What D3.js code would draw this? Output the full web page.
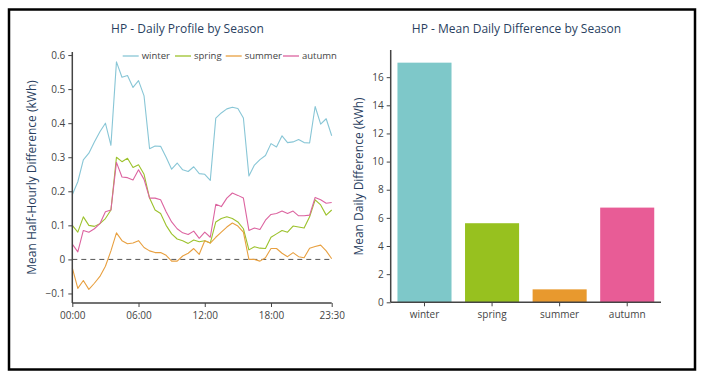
<!DOCTYPE html>
<html><head><meta charset="utf-8">
<script src="https://cdn.jsdelivr.net/npm/d3@7"></script>
<style>body{margin:0;background:#fff;}svg{display:block;font-family:"Open Sans",sans-serif;}</style>
</head><body>
<svg id="c" width="705" height="382"></svg>
<script>
const seasons = ["winter","spring","summer","autumn"];
const colors = ["#7ec8c9","#97c11f","#e8992e","#e85c96"];
const lineColors = ["#88c6d6","#9cc22c","#e8a040","#dc64a0"];
const times = d3.range(48).map(i => String(Math.floor(i/2)).padStart(2,"0") + ":" + (i%2 ? "30" : "00"));
const xTickLabels = ["00:00","06:00","12:00","18:00","23:30"];
const winter = [0.19,0.228,0.292,0.312,0.345,0.375,0.40,0.335,0.58,0.535,0.54,0.505,0.525,0.48,0.325,0.333,0.332,0.30,0.265,0.283,0.263,0.258,0.272,0.252,0.25,0.232,0.415,0.43,0.442,0.447,0.443,0.415,0.245,0.277,0.293,0.305,0.34,0.33,0.363,0.343,0.345,0.352,0.343,0.342,0.449,0.397,0.413,0.363];
const spring = [0.10,0.08,0.125,0.10,0.097,0.105,0.12,0.145,0.30,0.287,0.297,0.27,0.278,0.25,0.18,0.145,0.135,0.10,0.075,0.06,0.055,0.047,0.057,0.052,0.055,0.048,0.11,0.12,0.125,0.12,0.11,0.09,0.028,0.037,0.033,0.032,0.065,0.075,0.085,0.08,0.098,0.095,0.092,0.125,0.175,0.16,0.13,0.145];
const summer = [-0.025,-0.085,-0.062,-0.088,-0.07,-0.05,-0.02,0.025,0.078,0.055,0.046,0.048,0.055,0.035,0.025,0.02,0.02,0.012,-0.005,-0.005,0.01,0.018,0.032,0.015,0.055,0.048,0.065,0.08,0.095,0.107,0.098,0.08,0.0,0.0,-0.005,0.005,0.032,0.032,0.018,0.008,0.02,0.008,0.005,0.033,0.038,0.042,0.025,0.002];
const autumn = [0.045,0.022,0.085,0.08,0.09,0.105,0.14,0.145,0.285,0.242,0.24,0.233,0.263,0.235,0.18,0.18,0.175,0.14,0.11,0.09,0.078,0.073,0.083,0.062,0.08,0.065,0.162,0.155,0.18,0.195,0.188,0.18,0.085,0.092,0.088,0.115,0.132,0.135,0.142,0.135,0.142,0.128,0.128,0.13,0.182,0.175,0.165,0.167];
const dailyDiff = [17.03,5.62,0.92,6.73];
const leftYTicks = [-0.1,0,0.1,0.2,0.3,0.4,0.5,0.6];
const rightYTicks = [0,2,4,6,8,10,12,14,16];

const series = [winter,spring,summer,autumn];
const svg = d3.select("#c");
const textCol = "#444";
const titleCol = "#2a3f5f";

// border
svg.append("rect").attr("x",9).attr("y",9.5).attr("width",686).attr("height",360)
  .attr("fill","none").attr("stroke","#000").attr("stroke-width",2.5);

// ---- Left chart
const L = {x0:72.3, x1:331.7, y0:52, y1:303};
const x = d3.scaleLinear().domain([0,47]).range([L.x0,L.x1]);
const y = d3.scaleLinear().domain([-0.128,0.609]).range([L.y1,L.y0]);

const gL = svg.append("g");
gL.append("line").attr("x1",L.x0).attr("x2",L.x1).attr("y1",y(0)).attr("y2",y(0))
  .attr("stroke","#555").attr("stroke-width",1).attr("stroke-dasharray","5,4");

const line = d3.line().x((d,i)=>x(i)).y(d=>y(d));
series.forEach((s,k)=>{
  gL.append("path").datum(s).attr("d",line).attr("fill","none")
    .attr("stroke",lineColors[k]).attr("stroke-width",1.1).attr("stroke-linejoin","round");
});

const yAxisL = d3.axisLeft(y).tickValues(leftYTicks).tickSize(4).tickPadding(3)
  .tickFormat(d => d===0 ? "0" : (d<0 ? "\u22120.1" : d3.format(".1f")(d)));
const gya = gL.append("g").attr("transform",`translate(${L.x0},0)`).call(yAxisL);
const xAxisL = d3.axisBottom(x).tickValues([0,12,24,36,47]).tickSize(4).tickPadding(5)
  .tickFormat(d => times[d]);
const gxa = gL.append("g").attr("transform",`translate(0,${L.y1})`).call(xAxisL);
[gya,gxa].forEach(g=>{
  g.select(".domain").attr("stroke","#444").attr("stroke-width",1.5);
  g.selectAll(".tick line").attr("stroke","#444");
  g.selectAll(".tick text").attr("fill",textCol).attr("font-size",10).attr("font-family","Open Sans");
});
gya.select(".domain").attr("d",`M0,${L.y0}V${L.y1}`);
gxa.select(".domain").attr("d",`M${L.x0},0H${L.x1}`);

gL.append("text").attr("transform",`translate(33,177.5) rotate(-90)`).attr("text-anchor","middle")
  .attr("dominant-baseline","middle").attr("font-size",12).attr("fill",titleCol)
  .text("Mean Half-Hourly Difference (kWh)");
svg.append("text").attr("x",187.5).attr("y",30).attr("text-anchor","middle").attr("dominant-baseline","middle")
  .attr("font-size",12).attr("fill",titleCol).text("HP - Daily Profile by Season");

// legend
const legX = [122.7,175,225.7,283];
seasons.forEach((s,k)=>{
  const lg = gL.append("g").attr("transform",`translate(${legX[k]},56)`);
  lg.append("line").attr("x1",0).attr("x2",16).attr("y1",0).attr("y2",0).attr("stroke",lineColors[k]).attr("stroke-width",1.3);
  lg.append("text").attr("x",19).attr("y",0).attr("dominant-baseline","middle").attr("font-size",9.5)
    .attr("fill",textCol).text(s);
});

// ---- Right chart
const R = {x0:390.7, x1:661, y0:50, y1:302.3};
const xb = d3.scaleBand().domain(seasons).range([R.x0,R.x1]).paddingInner(0.2).paddingOuter(0.1);
const yb = d3.scaleLinear().domain([0,17.93]).range([R.y1,R.y0]);
const gR = svg.append("g");
gR.selectAll("rect.bar").data(dailyDiff).join("rect").attr("class","bar")
  .attr("x",(d,i)=>xb(seasons[i])).attr("width",xb.bandwidth())
  .attr("y",d=>yb(d)).attr("height",d=>yb(0)-yb(d)).attr("fill",(d,i)=>colors[i]);
const gyb = gR.append("g").attr("transform",`translate(${R.x0},0)`)
  .call(d3.axisLeft(yb).tickValues(rightYTicks).tickSize(4).tickPadding(3));
const gxb = gR.append("g").attr("transform",`translate(0,${R.y1})`)
  .call(d3.axisBottom(xb).tickSize(4).tickPadding(5));
[gyb,gxb].forEach(g=>{
  g.select(".domain").attr("stroke","#444").attr("stroke-width",1.5);
  g.selectAll(".tick line").attr("stroke","#444");
  g.selectAll(".tick text").attr("fill",textCol).attr("font-size",10).attr("font-family","Open Sans");
});
gyb.select(".domain").attr("d",`M0,${R.y0}V${R.y1}`);
gxb.select(".domain").attr("d",`M${R.x0},0H${R.x1}`);
gR.append("text").attr("transform",`translate(360,176.5) rotate(-90)`).attr("text-anchor","middle")
  .attr("dominant-baseline","middle").attr("font-size",12).attr("fill",titleCol)
  .text("Mean Daily Difference (kWh)");
svg.append("text").attr("x",516.5).attr("y",30).attr("text-anchor","middle").attr("dominant-baseline","middle")
  .attr("font-size",12).attr("fill",titleCol).text("HP - Mean Daily Difference by Season");
</script>
</body></html>
